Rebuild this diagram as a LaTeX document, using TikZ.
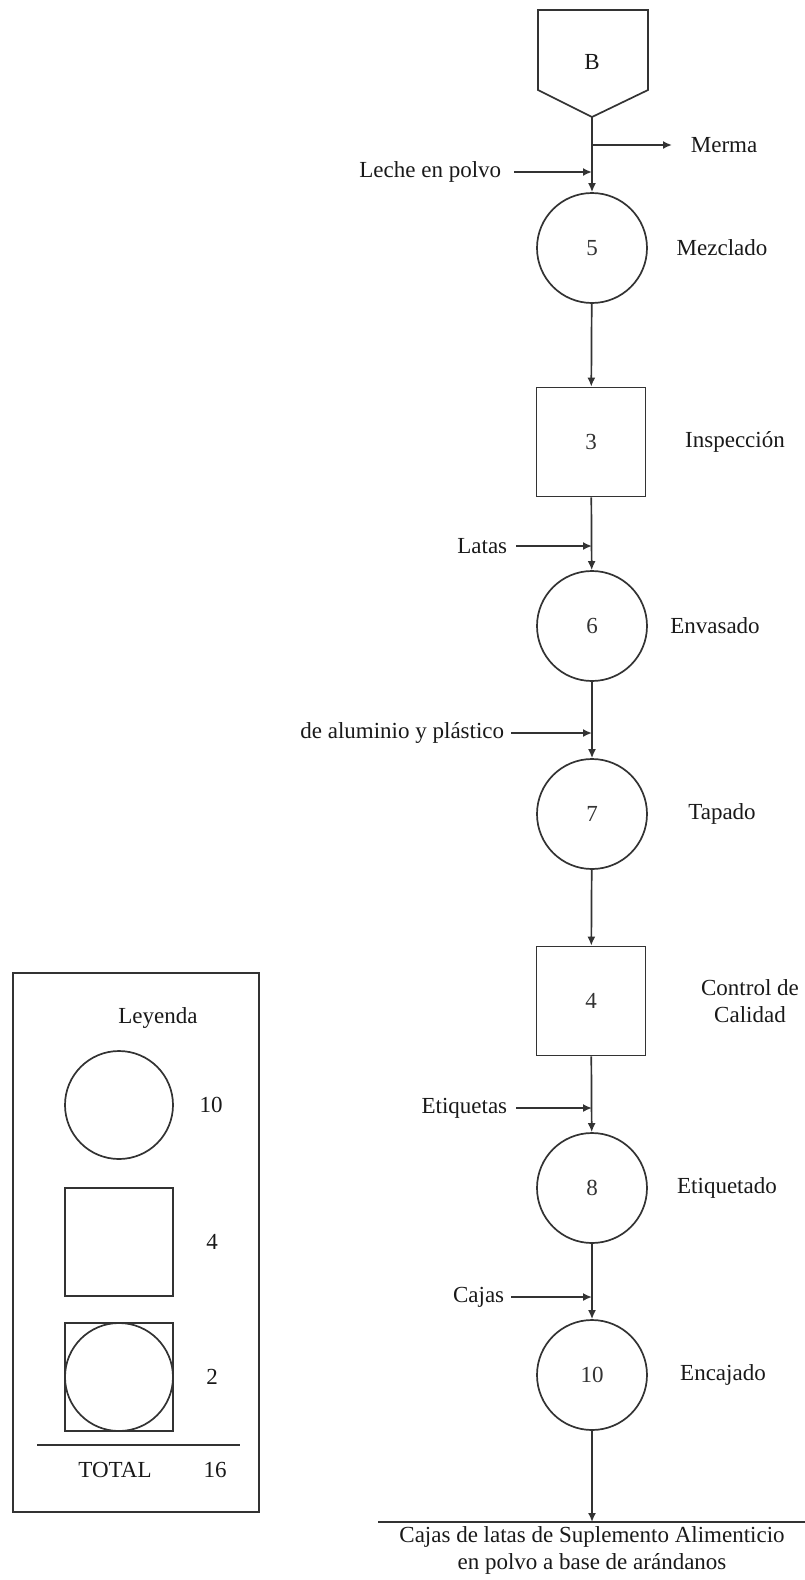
\documentclass[tikz,border=0pt]{standalone}
\usepackage{fontspec}
\setmainfont{Liberation Serif}
\usetikzlibrary{positioning}
\usetikzlibrary{arrows.meta}
\usetikzlibrary{shapes.geometric,calc}

\begin{document}
\begin{tikzpicture}[x=1pt,y=-1pt,
        font=\fontsize{23}{27}\selectfont,
        line width=1.7pt, color=black!80,
        flecha/.style={-{Latex[length=9pt,width=8pt]}},
        operacion/.style={circle, draw, minimum size=110pt, inner sep=0pt},
        inspeccion/.style={rectangle, draw, minimum size=109pt, inner sep=0pt},
        etiqueta/.style={inner sep=0pt, text=black!90}]

        \useasboundingbox (0,0) rectangle (805,1580);

        % almacen B
        \draw (538,10) -- (648,10) -- (648,90) -- (592,117) coordinate (Bp) -- (538,90) -- cycle;
        \node[etiqueta] (B) at (592,62) {B};

        % proceso principal
        \node[operacion] (o5) at (592,248) {5};
        \node[inspeccion] (i3) at (591,442) {3};
        \node[operacion] (o6) at (592,626) {6};
        \node[operacion] (o7) at (592,814) {7};
        \node[inspeccion] (i4) at (591,1001) {4};
        \node[operacion] (o8) at (592,1188) {8};
        \node[operacion] (o10) at (592,1375) {10};

        \node[etiqueta] (tm5) at (722,248) {Mezclado};
        \node[etiqueta] (ti3) at (735,442) {Inspección};
        \node[etiqueta] (to6) at (715,626) {Envasado};
        \node[etiqueta] (to7) at (722,814) {Tapado};
        \node[etiqueta, align=center] (ti4) at (750,1001) {Control de\\Calidad};
        \node[etiqueta] (to8) at (727,1188) {Etiquetado};
        \node[etiqueta] (to10) at (723,1375) {Encajado};

        % entradas y salidas
        \coordinate (jm) at (592,145);
        \coordinate (j5) at (592,172);
        \coordinate (j6) at (592,546);
        \coordinate (j7) at (592,733);
        \coordinate (j8) at (592,1108);
        \coordinate (j10) at (592,1297);
        \coordinate (fin) at (592,1522);

        \node[etiqueta, anchor=west] (merma) at (690,145) {Merma};
        \node[etiqueta, anchor=east] (leche) at (502,172) {Leche en polvo};
        \node[etiqueta, anchor=east] (latas) at (508,546) {Latas};
        \node[etiqueta, anchor=east] (tapas) at (505,733) {de aluminio y plástico};
        \node[etiqueta, anchor=east] (etiq) at (508,1108) {Etiquetas};
        \node[etiqueta, anchor=east] (cajas) at (505,1297) {Cajas};

        \draw[flecha] (jm) -- ++(80,0);
        \draw[flecha] ($(leche.east)+(12,0)$) -- (j5);
        \draw[flecha] ($(latas.east)+(8,0)$) -- (j6);
        \draw[flecha] ($(tapas.east)+(6,0)$) -- (j7);
        \draw[flecha] ($(etiq.east)+(8,0)$) -- (j8);
        \draw[flecha] ($(cajas.east)+(6,0)$) -- (j10);

        \draw[flecha] (Bp) -- (o5);
        \draw[flecha] (o5) -- (i3);
        \draw[flecha] (i3) -- (o6);
        \draw[flecha] (o6) -- (o7);
        \draw[flecha] (o7) -- (i4);
        \draw[flecha] (i4) -- (o8);
        \draw[flecha] (o8) -- (o10);
        \draw[flecha] (o10) -- (fin);

        \draw (378,1522) -- (805,1522);
        \node[etiqueta, align=center, anchor=north] (producto) at (592,1526)
            {Cajas de latas de Suplemento Alimenticio\\en polvo a base de arándanos};

        % leyenda
        \draw (13,973) rectangle (259,1512);
        \node[etiqueta] (leyenda) at (158,1018) {Leyenda};
        \node[operacion, minimum size=108pt] (lo) at (119,1105) {};
        \node[etiqueta] (lon) at (211,1105) {10};
        \node[inspeccion, minimum size=108pt] (li) at (119,1242) {};
        \node[etiqueta] (lin) at (212,1242) {4};
        \node[inspeccion, minimum size=108pt] (lc) at (119,1377) {};
        \node[operacion, minimum size=108pt] (lcc) at (119,1377) {};
        \node[etiqueta] (lcn) at (212,1377) {2};
        \draw (37,1445) -- (240,1445);
        \node[etiqueta] (total) at (115,1470) {TOTAL};
        \node[etiqueta] (totaln) at (215,1470) {16};
\end{tikzpicture}
\end{document}
